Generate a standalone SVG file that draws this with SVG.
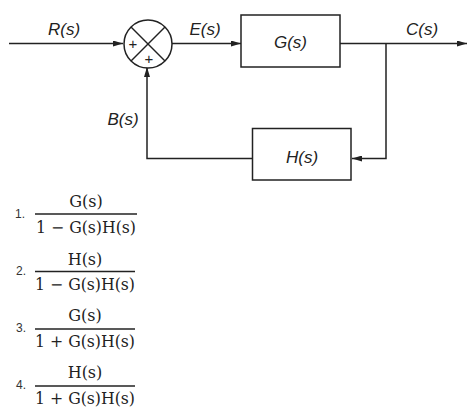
<svg xmlns="http://www.w3.org/2000/svg" width="471" height="411" viewBox="0 0 471 411">
<style>
.ln{fill:none;stroke:#222;stroke-width:1.5}
.bx{fill:#fff;stroke:#222;stroke-width:1.5}
.lb{font-family:"Liberation Sans",Arial,sans-serif;font-style:italic;font-size:17px;fill:#222}
.pl{font-family:"Liberation Sans",Arial,sans-serif;font-size:15px;fill:#222}
.fr{font-family:"DejaVu Serif","Liberation Serif",serif;font-size:16px;fill:#222}
.num{font-family:"Liberation Sans",Arial,sans-serif;font-size:12px;fill:#333}
.bar{stroke:#222;stroke-width:1.3}
</style>
<defs>
<marker id="ar" viewBox="0 0 10 6" refX="10" refY="3" markerWidth="10" markerHeight="6" markerUnits="userSpaceOnUse" orient="auto">
<path d="M0,0 L10,3 L0,6 Z" fill="#222"/>
</marker>
</defs>
<rect width="471" height="411" fill="#fff"/>
<g id="connectors">
<line class="ln" x1="9" y1="43.5" x2="123" y2="43.5" marker-end="url(#ar)"/>
<line class="ln" x1="172" y1="43.5" x2="241" y2="43.5" marker-end="url(#ar)"/>
<line class="ln" x1="340" y1="43.5" x2="467" y2="43.5" marker-end="url(#ar)"/>
<polyline class="ln" points="386,43.5 386,158.5 352,158.5" marker-end="url(#ar)"/>
<polyline class="ln" points="252.5,158.5 147,158.5 147,67" marker-end="url(#ar)"/>
</g>
<g id="sum">
<circle cx="148" cy="44" r="24" class="bx"/>
<line class="ln" x1="131" y1="27" x2="165" y2="61"/>
<line class="ln" x1="165" y1="27" x2="131" y2="61"/>
<text class="pl" x="133" y="49" text-anchor="middle">+</text>
<text class="pl" x="149" y="64" text-anchor="middle">+</text>
</g>
<g id="G">
<rect x="241" y="15" width="99" height="52" class="bx"/>
<text class="lb" x="290.5" y="48" text-anchor="middle">G(s)</text>
</g>
<g id="H">
<rect x="252.5" y="128.5" width="98.5" height="51.5" class="bx"/>
<text class="lb" x="302" y="163" text-anchor="middle">H(s)</text>
</g>
<g id="labels">
<text class="lb" x="64" y="35" text-anchor="middle">R(s)</text>
<text class="lb" x="205" y="35" text-anchor="middle">E(s)</text>
<text class="lb" x="422" y="35" text-anchor="middle">C(s)</text>
<text class="lb" x="123" y="125" text-anchor="middle">B(s)</text>
</g>
<g id="option1">
<text class="num" x="15" y="218">1.</text>
<text class="fr" x="86" y="207" text-anchor="middle">G(s)</text>
<line class="bar" x1="35" y1="214" x2="137" y2="214"/>
<text class="fr" x="36" y="233" textLength="100" lengthAdjust="spacingAndGlyphs">1 − G(s)H(s)</text>
</g>
<g id="option2">
<text class="num" x="16" y="275">2.</text>
<text class="fr" x="85" y="265" text-anchor="middle">H(s)</text>
<line class="bar" x1="35" y1="271.5" x2="135" y2="271.5"/>
<text class="fr" x="35" y="290" textLength="100" lengthAdjust="spacingAndGlyphs">1 − G(s)H(s)</text>
</g>
<g id="option3">
<text class="num" x="16" y="332">3.</text>
<text class="fr" x="85" y="321" text-anchor="middle">G(s)</text>
<line class="bar" x1="35" y1="329" x2="135" y2="329"/>
<text class="fr" x="35" y="347" textLength="100" lengthAdjust="spacingAndGlyphs">1 + G(s)H(s)</text>
</g>
<g id="option4">
<text class="num" x="16" y="389">4.</text>
<text class="fr" x="85" y="378" text-anchor="middle">H(s)</text>
<line class="bar" x1="35" y1="386" x2="135" y2="386"/>
<text class="fr" x="35" y="404" textLength="100" lengthAdjust="spacingAndGlyphs">1 + G(s)H(s)</text>
</g>
</svg>
